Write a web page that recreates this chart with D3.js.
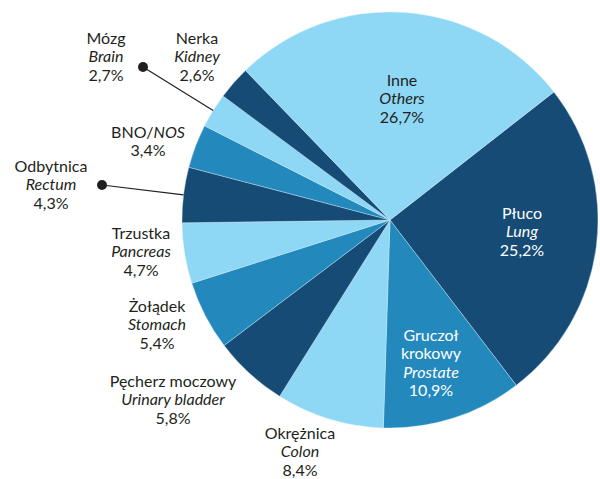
<!DOCTYPE html>
<html>
<head>
<meta charset="utf-8">
<script src="https://cdn.jsdelivr.net/npm/d3@7"></script>
<style>
  body { margin: 0; background: #fff; }
  text { font-family: Lato, "Open Sans", sans-serif; font-size: 16px; }
</style>
</head>
<body>
<svg id="chart" width="600" height="479"></svg>
<script>
// order clockwise, starting at Lung
var namesPl = ["Płuco", "Gruczoł krokowy", "Okrężnica", "Pęcherz moczowy", "Żołądek", "Trzustka", "Odbytnica", "BNO", "Mózg", "Nerka", "Inne"];
var namesEn = ["Lung", "Prostate", "Colon", "Urinary bladder", "Stomach", "Pancreas", "Rectum", "NOS", "Brain", "Kidney", "Others"];
var values = [25.2, 10.9, 8.4, 5.8, 5.4, 4.7, 4.3, 3.4, 2.7, 2.6, 26.7];
var shade = ["dark", "mid", "light", "dark", "mid", "light", "dark", "mid", "light", "dark", "light"];

var colors = {dark: "#164b75", mid: "#2389bd", light: "#8ed8f6"};
var cx = 390, cy = 220, radius = 208;
var startAngle = 52 * Math.PI / 180;

var svg = d3.select("#chart");
var g = svg.append("g").attr("transform", "translate(" + cx + "," + cy + ")");

var pie = d3.pie().sort(null).value(function (d) { return d; })
    .startAngle(startAngle).endAngle(startAngle + 2 * Math.PI);
var arcs = pie(values);
var arc = d3.arc().innerRadius(0).outerRadius(radius);

g.selectAll("path.slice")
    .data(arcs).enter()
    .append("path")
    .attr("class", "slice")
    .attr("d", arc)
    .attr("fill", function (d, i) { return colors[shade[i]]; })
    .attr("stroke", "#cfeaf6")
    .attr("stroke-width", 0.4);

function fmt(v) { return String(v.toFixed(1)).replace(".", ",") + "%"; }
function polar(a, r) { return [r * Math.sin(a), -r * Math.cos(a)]; }

// label anchor points (page coords, centre of first line)
var labelAt = {
    "Lung": [522, 213], "Prostate": [431, 335], "Others": [402, 80],
    "Colon": [300, 433], "Urinary bladder": [173, 381], "Stomach": [157, 306],
    "Pancreas": [141, 233], "Rectum": [51, 166], "NOS": [148, 132],
    "Brain": [106, 38], "Kidney": [197, 38]
};
var leaderDot = {"Brain": [143, 67], "Rectum": [102, 185]};
var lineH = 18.5;

arcs.forEach(function (d, i) {
    var en = namesEn[i], pl = namesPl[i];
    var pos = labelAt[en];
    var inside = (en == "Lung" || en == "Prostate" || en == "Others");
    var fill = (inside && shade[i] != "light") ? "#ffffff" : "#231f20";
    var lines;
    if (en == "Prostate")
        lines = [["Gruczoł", false], ["krokowy", false], [en, true], [fmt(values[i]), false]];
    else if (en == "NOS")
        lines = [null, [fmt(values[i]), false]];
    else
        lines = [[pl, false], [en, true], [fmt(values[i]), false]];

    var t = svg.append("text")
        .attr("text-anchor", "middle")
        .attr("fill", fill);
    lines.forEach(function (ln, k) {
        var ts = t.append("tspan").attr("x", pos[0]).attr("y", pos[1] + k * lineH).attr("dy", "0.36em");
        if (ln == null) {
            ts.text("BNO/");
            ts.append("tspan").attr("font-style", "italic").text("NOS");
        } else {
            ts.text(ln[0]);
            if (ln[1]) ts.attr("font-style", "italic");
        }
    });

    if (leaderDot[en]) {
        var mid = (d.startAngle + d.endAngle) / 2;
        var p = polar(mid, radius);
        var dot = leaderDot[en];
        svg.append("line")
            .attr("x1", dot[0]).attr("y1", dot[1])
            .attr("x2", cx + p[0]).attr("y2", cy + p[1])
            .attr("stroke", "#231f20").attr("stroke-width", 1.2);
        svg.append("circle")
            .attr("cx", dot[0]).attr("cy", dot[1]).attr("r", 5)
            .attr("fill", "#231f20");
    }
});
</script>
</body>
</html>
